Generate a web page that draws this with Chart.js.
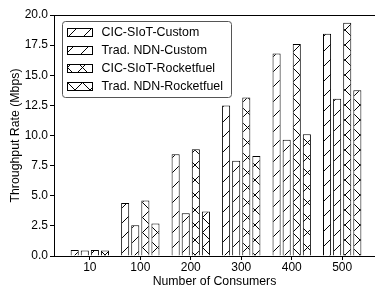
<!DOCTYPE html>
<html>
<head>
<meta charset="utf-8">
<script src="https://cdn.jsdelivr.net/npm/chart.js@4.4.1/dist/chart.umd.min.js"></script>
<style>
  html, body { margin: 0; padding: 0; background: #fff; }
  canvas { display: block; }
</style>
</head>
<body>
<canvas id="throughputChart" width="375" height="289"></canvas>
<script>
// Chart data
const consumers = ['10', '100', '200', '300', '400', '500'];
const seriesNames = ['CIC-SIoT-Custom', 'Trad. NDN-Custom', 'CIC-SIoT-Rocketfuel', 'Trad. NDN-Rocketfuel'];
const cicCustom = [0.5, 4.4, 8.45, 12.5, 16.8, 18.45];
const tradCustom = [0.45, 2.55, 3.55, 7.9, 9.65, 13.05];
const cicRocketfuel = [0.5, 4.6, 8.85, 13.15, 17.6, 19.35];
const tradRocketfuel = [0.45, 2.7, 3.7, 8.3, 10.1, 13.75];
const yTicks = [0, 2.5, 5, 7.5, 10, 12.5, 15, 17.5, 20];

const FONT = '"Liberation Sans", Arial, Helvetica, sans-serif';

/**
 * Build a hatch fill ('/' or 'x') like matplotlib's
 */
function makeHatch(kind) {
    const s = 15;
    const tile = document.createElement('canvas');
    tile.width = s;
    tile.height = s;
    const g = tile.getContext('2d');
    g.fillStyle = '#fff';
    g.fillRect(0, 0, s, s);
    g.strokeStyle = '#000';
    g.lineWidth = 1;
    g.beginPath();
    g.moveTo(-1, s + 1); g.lineTo(s + 1, -1);
    if (kind === 'x') {
        g.moveTo(-1, -1); g.lineTo(s + 1, s + 1);
    }
    g.stroke();
    return g.createPattern(tile, 'repeat');
}

const seriesValues = [cicCustom, tradCustom, cicRocketfuel, tradRocketfuel];
const seriesHatch = ['/', '/', 'x', 'x'];

const datasets = seriesValues.map((vals, k) => ({
    label: seriesNames[k],
    data: vals.map((v, i) => ({ x: i, y: v })),
    backgroundColor: makeHatch(seriesHatch[k]),
    borderColor: '#000',
    borderWidth: 1,
    categoryPercentage: 0.8,
    barPercentage: 0.8
}));

// top spine + in-plot legend
const framePlugin = {
    id: 'frame',
    afterDraw(chart) {
        const ctx = chart.ctx;
        const a = chart.chartArea;
        ctx.save();
        ctx.strokeStyle = '#000';
        ctx.lineWidth = 1;
        ctx.beginPath();
        ctx.moveTo(a.left, a.top + 0.5);
        ctx.lineTo(a.right, a.top + 0.5);
        ctx.stroke();

        // legend box
        const bx = a.left + 8.5, by = a.top + 6.5, bw = 169, bh = 76;
        ctx.fillStyle = 'rgba(255,255,255,0.85)';
        ctx.strokeStyle = '#555';
        ctx.beginPath();
        ctx.roundRect(bx, by, bw, bh, 3);
        ctx.fill();
        ctx.stroke();

        ctx.font = '12.4px ' + FONT;
        ctx.textBaseline = 'middle';
        chart.data.datasets.forEach((ds, k) => {
            const cy = by + 11 + k * 18;
            ctx.fillStyle = ds.backgroundColor;
            ctx.fillRect(bx + 5, cy - 4, 25, 8);
            ctx.strokeStyle = '#000';
            ctx.strokeRect(bx + 5, cy - 4, 25, 8);
            ctx.fillStyle = '#000';
            ctx.fillText(ds.label, bx + 39, cy);
        });
        ctx.restore();
    }
};

new Chart(document.getElementById('throughputChart').getContext('2d'), {
    type: 'bar',
    data: { datasets: datasets },
    options: {
        responsive: false,
        animation: false,
        layout: { padding: { top: 15, right: 0, bottom: 0, left: 0 } },
        plugins: {
            legend: { display: false },
            tooltip: { enabled: false }
        },
        scales: {
            x: {
                type: 'linear',
                offset: false,
                min: -0.71,
                max: 5.65,
                afterBuildTicks: axis => { axis.ticks = consumers.map((_, i) => ({ value: i })); },
                afterFit: axis => { axis.height = 33; },
                ticks: {
                    callback: value => consumers[value],
                    color: '#000',
                    font: { family: FONT, size: 12 },
                    maxRotation: 0,
                    autoSkip: false,
                    padding: 0
                },
                grid: { offset: false, drawOnChartArea: false, drawTicks: true, tickLength: 4, color: '#000' },
                border: { display: true, color: '#000', width: 1 },
                title: {
                    display: true,
                    text: 'Number of Consumers',
                    color: '#000',
                    font: { family: FONT, size: 12.3 },
                    padding: { top: 0, bottom: 0 }
                }
            },
            y: {
                min: 0,
                max: 20,
                afterBuildTicks: axis => { axis.ticks = yTicks.map(v => ({ value: v })); },
                afterFit: axis => { axis.width = 54; },
                ticks: {
                    callback: value => value.toFixed(1),
                    color: '#000',
                    font: { family: FONT, size: 12 },
                    padding: 2
                },
                grid: { drawOnChartArea: false, drawTicks: true, tickLength: 4, color: '#000' },
                border: { display: true, color: '#000', width: 1 },
                title: {
                    display: true,
                    text: 'Throughput Rate (Mbps)',
                    color: '#000',
                    font: { family: FONT, size: 12.3 },
                    padding: { top: 8, bottom: 0 }
                }
            }
        }
    },
    plugins: [framePlugin]
});
</script>
</body>
</html>
